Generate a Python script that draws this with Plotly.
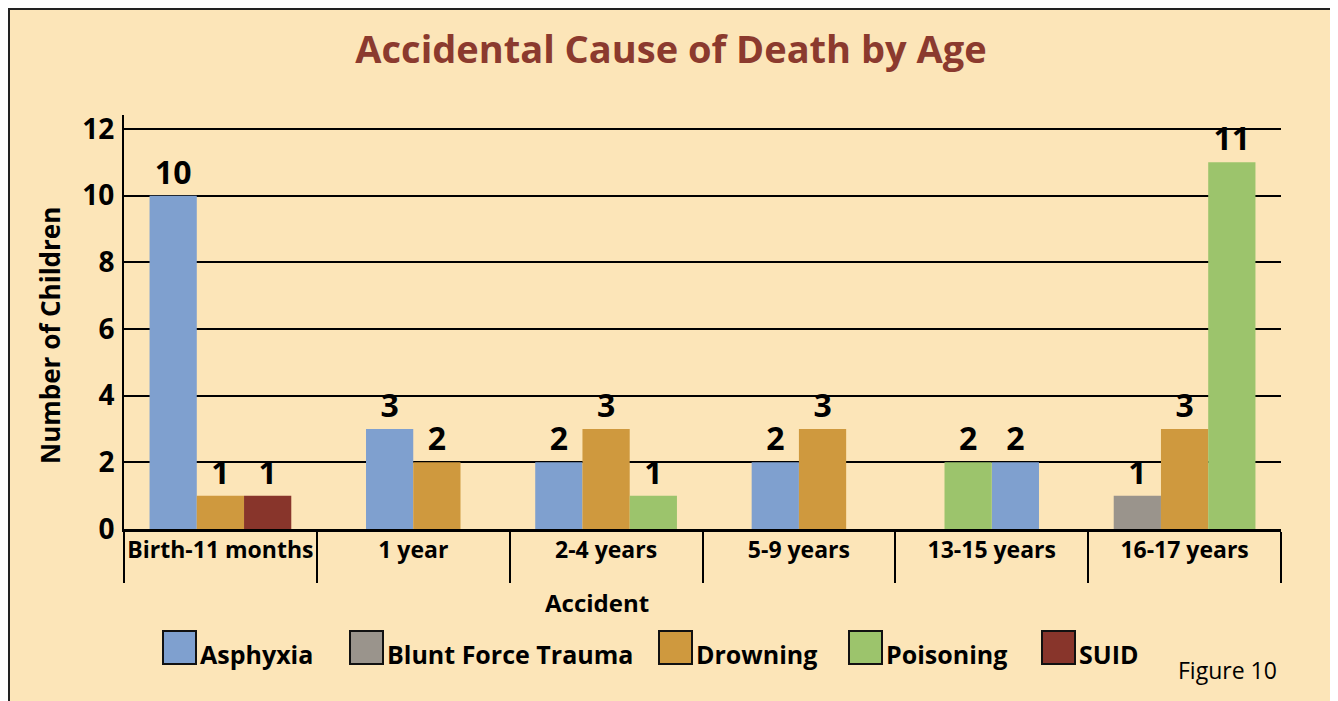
import plotly.graph_objects as go

# data
categories = ["Birth-11 months", "1 year", "2-4 years", "5-9 years", "13-15 years", "16-17 years"]
series_names = ["Asphyxia", "Blunt Force Trauma", "Drowning", "Poisoning", "SUID"]

asphyxia = [10, 3, 2, 2, 2, None]
blunt_force = [None, None, None, None, None, 1]
drowning = [1, 2, 3, 3, None, 3]
poisoning = [None, None, 1, None, 2, 11]
suid = [1, None, None, None, None, None]

# left-to-right order of the bars inside each age group
bar_order = [
    ["Asphyxia", "Drowning", "SUID"],
    ["Asphyxia", "Drowning"],
    ["Asphyxia", "Drowning", "Poisoning"],
    ["Asphyxia", "Drowning"],
    ["Poisoning", "Asphyxia"],
    ["Blunt Force Trauma", "Drowning", "Poisoning"],
]

values = {
    "Asphyxia": asphyxia,
    "Blunt Force Trauma": blunt_force,
    "Drowning": drowning,
    "Poisoning": poisoning,
    "SUID": suid,
}
colors = {
    "Asphyxia": "#7fa0cf",
    "Blunt Force Trauma": "#9a948c",
    "Drowning": "#cf993e",
    "Poisoning": "#9cc46c",
    "SUID": "#88352b",
}

BG = "#fce5b8"
TITLE_RED = "#8b3a2e"
FONT = "Open Sans, Noto Sans, sans-serif"
bar_w = 0.245

fig = go.Figure()

for name in series_names:
    vals = values[name]
    offs = []
    for i, order in enumerate(bar_order):
        if name in order:
            # bars in a group sit side by side, centred on the category
            offs.append(-len(order) * bar_w / 2 + order.index(name) * bar_w)
        else:
            offs.append(0)
    fig.add_trace(go.Bar(
        x=categories,
        y=vals,
        name=name,
        width=bar_w,
        offset=offs,
        marker=dict(color=colors[name], line=dict(width=0)),
        text=[str(v) if v is not None else "" for v in vals],
        textposition="outside",
        textfont=dict(family=FONT, size=32, color="black", weight="bold"),
        constraintext="none",
        cliponaxis=False,
        showlegend=False,
        hoverinfo="skip",
    ))

# the page adds an 8px body margin, so figure pixels = page pixels - 8
SHIFT = 8
W, H = 1338 - SHIFT, 701 - SHIFT
L, R = 124 - SHIFT, 1338 - 1281
T, B = 115 - SHIFT, 701 - 529
pw, ph = W - L - R, H - T - B


def px_x(p):
    # page pixel -> paper x
    return (p - SHIFT - L) / pw


def px_y(p):
    # page pixel -> paper y
    return (H - B - (p - SHIFT)) / ph


shapes = [
    dict(type="rect", xref="paper", yref="paper", x0=px_x(9), x1=px_x(1332), y0=px_y(701), y1=px_y(9),
         fillcolor=BG, line=dict(width=0), layer="below"),
    dict(type="line", xref="paper", yref="paper", x0=px_x(8), x1=px_x(1332), y0=px_y(9), y1=px_y(9),
         line=dict(color="#222", width=2)),
    dict(type="line", xref="paper", yref="paper", x0=px_x(9), x1=px_x(9), y0=px_y(8), y1=px_y(701),
         line=dict(color="#222", width=2)),
]

annotations = [
    dict(text="Number of Children", xref="paper", yref="paper", x=px_x(50), y=px_y(336),
         xanchor="center", yanchor="middle", textangle=-90, showarrow=False,
         font=dict(family=FONT, size=26, color="black", weight="bold")),
    dict(text="Accident", xref="paper", yref="paper", x=px_x(597), y=px_y(602),
         xanchor="center", yanchor="middle", showarrow=False,
         font=dict(family=FONT, size=24, color="black", weight="bold")),
    dict(text="Figure 10", xref="paper", yref="paper", x=px_x(1279), y=px_y(670),
         xanchor="right", yanchor="middle", showarrow=False,
         font=dict(family=FONT, size=23, color="black")),
]

# legend drawn as boxed swatches with labels
legend_x = [162, 349, 658, 848, 1041]
for name, lx in zip(series_names, legend_x):
    annotations.append(dict(
        text=" ", xref="paper", yref="paper", x=px_x(lx), y=px_y(647),
        xanchor="left", yanchor="middle", width=31, height=31, bgcolor=colors[name],
        bordercolor="#111", borderwidth=2, borderpad=0, showarrow=False,
    ))
    annotations.append(dict(
        text=name, xref="paper", yref="paper", x=px_x(lx + 36), y=px_y(673),
        xanchor="left", yanchor="bottom", showarrow=False,
        font=dict(family=FONT, size=25, color="black", weight="bold"),
    ))

fig.update_layout(
    width=W,
    height=H,
    margin=dict(l=L, r=R, t=T, b=B),
    paper_bgcolor="white",
    plot_bgcolor=BG,
    barmode="overlay",
    title=dict(text="Accidental Cause of Death by Age", x=(671 - SHIFT) / W, xref="container",
               y=1 - (50 - SHIFT) / H, yanchor="middle", xanchor="center",
               font=dict(family=FONT, size=38, color=TITLE_RED, weight="bold")),
    shapes=shapes,
    annotations=annotations,
    xaxis=dict(
        type="category", range=[-0.5, 5.5], tickson="boundaries", ticks="outside",
        ticklen=51, tickwidth=2, tickcolor="black", showline=True, linewidth=3, linecolor="black",
        showgrid=False, ticklabelstandoff=-2, tickangle=0,
        tickfont=dict(family=FONT, size=23, color="black", weight="bold"),
    ),
    yaxis=dict(
        range=[0, 12.42], dtick=2, showgrid=True, gridcolor="black", gridwidth=2,
        showline=True, linewidth=2, linecolor="black", zeroline=False, ticks="",
        ticklabelstandoff=2,
        tickfont=dict(family=FONT, size=28, color="black", weight="bold"),
    ),
)

fig.write_html("out.html")
